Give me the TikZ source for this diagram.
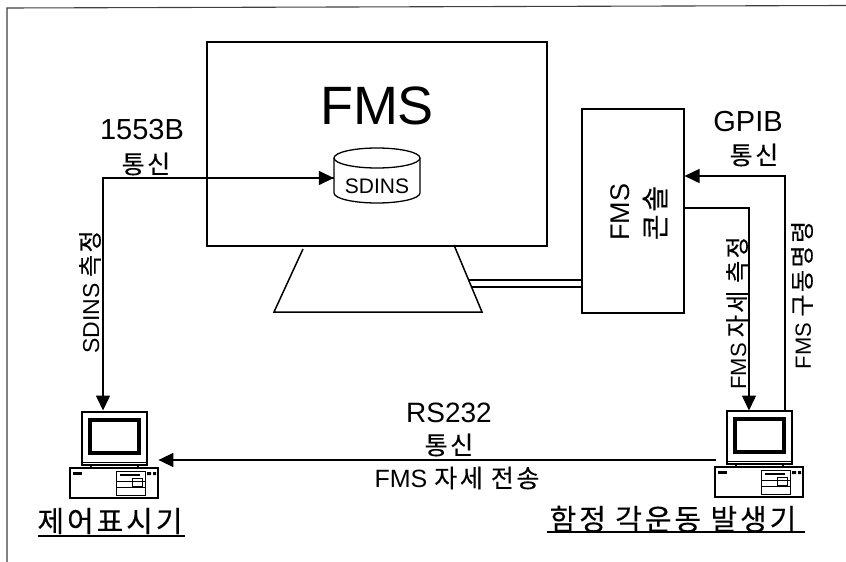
\documentclass[tikz,border=0pt]{standalone}
\usepackage{fontspec}
\setmainfont{Liberation Sans}
\newfontfamily\kr[LetterSpace=10,FakeBold=0.3]{Noto Sans CJK KR}
\usetikzlibrary{arrows.meta,calc}
\newcommand{\fs}[1]{\fontsize{#1}{#1}\selectfont}
\tikzset{
  x=1pt,y=-1pt,
  ln/.style={line width=1.5pt,draw=black},
  arr/.style={ln,-{Triangle[length=15pt,width=14pt]}},
  boxn/.style={ln,rectangle,inner sep=0pt,anchor=north west},
  lbl/.style={inner sep=0pt,text=black},
  uline/.style={line width=1.4pt,draw=black},
  pics/computer/.style={code={
    \draw[ln] (0,0) rectangle (65,53);
    \node[inner sep=0pt,minimum width=65pt,minimum height=53pt,anchor=north west] (-mon) at (0,0) {};
    \draw[line width=3.5pt] (8,8) rectangle (57,41);
    \draw[line width=1pt] (0,50) -- (65,50);
    \draw[line width=1.5pt] (9,53) -- (9,56) (56,53) -- (56,56);
    \draw[ln] (-12,56) rectangle (76,86);
    \node[inner sep=0pt,minimum width=88pt,minimum height=30pt,anchor=north west] (-base) at (-12,56) {};
    \fill (-9,60) rectangle (0,63);
    \draw[line width=1pt] (34,59) rectangle (63,83);
    \draw[line width=1pt] (34,69) -- (63,69) (34,75) -- (63,75);
    \draw[line width=1.5pt] (38,63) -- (58,63);
    \draw[line width=1pt] (50,66) rectangle (60,74);
    \fill (65,60) rectangle (69,63) (71,60) rectangle (74,63);
  }}
}
\begin{document}
\begin{tikzpicture}
\useasboundingbox (0,0) rectangle (846,562);
\fill[white] (0,0) rectangle (846,562);
% frame
\coordinate (fa) at (7,562);
\coordinate (fb) at (7,8);
\coordinate (fc) at (846,5.5);
\draw[line width=1.1pt,draw=black!75] (fa) -- (fb) -- (fc);
% FMS body
\node[boxn,minimum width=340pt,minimum height=204pt] (fms) at (206,41) {};
\node[lbl] (fmst) at (377,106) {\fs{54}FMS};
% stand
\coordinate (s1) at (303,249);
\coordinate (s2) at (274,312);
\coordinate (s3) at (482,312);
\coordinate (s4) at (454,245);
\draw[ln,line join=miter] (s1) -- (s2) -- (s3) -- (s4);
% console
\node[boxn,minimum width=102pt,minimum height=204pt] (con) at (581,108) {};
\node[lbl,rotate=90] (cona) at (620,212) {\fs{27}FMS};
\node[lbl,rotate=90] (conb) at (655,213) {\fs{28}\kr 콘솔};
% double link
\coordinate (da) at ($(s4)!0.522!(s3)$);
\coordinate (db) at ($(s4)!0.627!(s3)$);
\draw[ln] (da) -- (da -| con.west);
\draw[ln] (db) -- (db -| con.west);
% SDINS cylinder
\coordinate (c1) at (334,158);
\coordinate (c2) at (420,158);
\draw[line width=1.3pt] (377,158) ellipse [x radius=43,y radius=10];
\draw[line width=1.3pt] (c1) -- (334,193) arc[start angle=180,end angle=360,x radius=43,y radius=-10] -- (c2);
\node[lbl] (sd) at (377,186) {\fs{21}SDINS};
\node[inner sep=0pt,minimum width=86pt,minimum height=45pt] (cyl) at (377,180) {};
% computers
\pic (l) at (82,412) {computer};
\pic (r) at (727,411) {computer};
% connectors
\coordinate (lc) at (103,178);
\coordinate (rgp) at (785,176);
\coordinate (rfp) at (749,208);
\coordinate (rsa) at (716,460);
\draw[arr,shorten >=1.5pt] (lc -| cyl.west) -- (lc) -- (lc |- l-mon.north);
\draw[arr] (lc -| fms.west) -- (lc -| cyl.west);
\draw[arr] (rgp |- r-mon.north) -- (rgp) -- (rgp -| con.east);
\draw[arr,shorten >=0.5pt] (rfp -| con.east) -- (rfp) -- (rfp |- r-mon.north);
\draw[arr] (rsa) -- (rsa -| l-base.east);
% labels
\node[lbl] (t1) at (142,130) {\fs{29}1553B};
\node[lbl] (t2) at (146,164) {\fs{25}\kr 통신};
\node[lbl] (t3) at (748,122) {\fs{29}GPIB};
\node[lbl] (t4) at (754,155) {\fs{25}\kr 통신};
\node[lbl,rotate=90] (t5) at (90,292) {\fs{23}SDINS {\kr\fs{24}측정}};
\node[lbl,rotate=90] (t6) at (737,313) {\fs{22}FMS {\kr\fs{24}자세 측정}};
\node[lbl,rotate=90] (t7) at (802,295) {\fs{22}FMS {\kr\fs{24}구동명령}};
\node[lbl] (t8) at (449,413) {\fs{28}RS232};
\node[lbl] (t9) at (449,445) {\fs{25}\kr 통신};
\node[lbl] (t10) at (457,478) {\fs{25}FMS {\kr\fs{25}자세 전송}};
\node[lbl] (t11) at (110,521) {\fs{29}\kr 제어표시기};
\node[lbl] (t12) at (673,519) {\fs{29}\kr 함정 각운동 발생기};
\coordinate (ua) at (38,536);
\coordinate (ub) at (185,536);
\coordinate (uc) at (547,532);
\coordinate (ud) at (805,532);
\draw[uline] (ua) -- (ub);
\draw[uline] (uc) -- (ud);
\end{tikzpicture}
\end{document}
